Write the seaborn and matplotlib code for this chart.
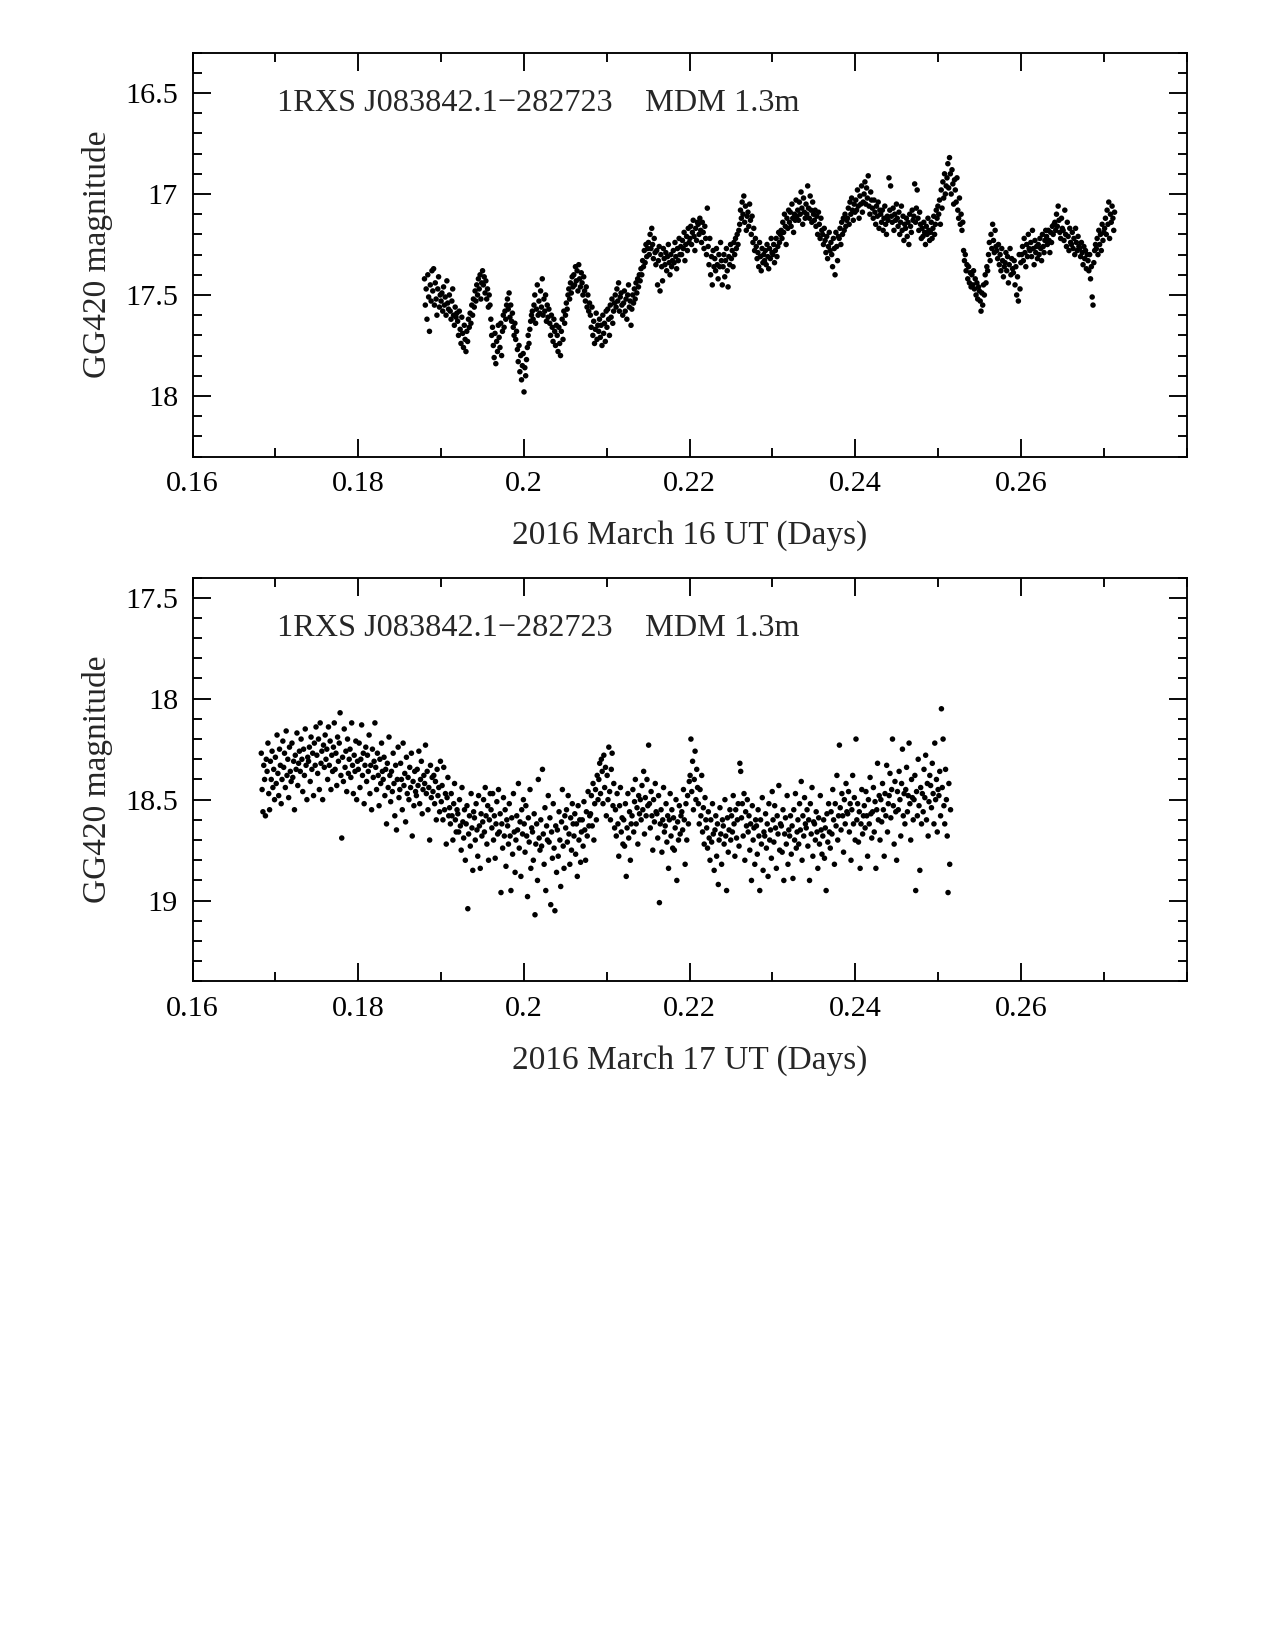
import numpy as np
import pandas as pd
import matplotlib
matplotlib.use("Agg")
import matplotlib.pyplot as plt
import seaborn as sns
from matplotlib.ticker import MultipleLocator, FuncFormatter

object_label = "1RXS J083842.1\u2212282723    MDM 1.3m"
ylabel = "GG420 magnitude"

night1_label = "2016 March 16 UT (Days)"
night1_t_start, night1_t_end = 0.1880, 0.2713
night1_mag = [
    17.42, 17.55, 17.47, 17.62, 17.40, 17.51, 17.68, 17.45, 17.53, 17.38,
    17.48, 17.37, 17.55, 17.44, 17.52, 17.60, 17.47, 17.41, 17.56, 17.50,
    17.53, 17.49, 17.58, 17.46, 17.55, 17.51, 17.60, 17.43, 17.54, 17.57,
    17.50, 17.58, 17.62, 17.53, 17.47, 17.60, 17.65, 17.56, 17.61, 17.59,
    17.63, 17.70, 17.58, 17.67, 17.74, 17.61, 17.69, 17.76, 17.65, 17.72,
    17.78, 17.68, 17.73, 17.62, 17.66, 17.59, 17.64, 17.55, 17.60, 17.52,
    17.56, 17.48, 17.53, 17.45, 17.50, 17.42, 17.47, 17.40, 17.52, 17.44,
    17.38, 17.45, 17.41, 17.49, 17.43, 17.52, 17.47, 17.56, 17.50, 17.55,
    17.62, 17.70, 17.66, 17.75, 17.81, 17.69, 17.84, 17.73, 17.78, 17.65,
    17.71, 17.76, 17.64, 17.80, 17.68, 17.60, 17.66, 17.58, 17.62, 17.55,
    17.52, 17.57, 17.49, 17.61, 17.55, 17.63, 17.59, 17.66, 17.70, 17.64,
    17.72, 17.68, 17.77, 17.83, 17.75, 17.88, 17.80, 17.92, 17.85, 17.79,
    17.98, 17.86, 17.90, 17.82, 17.76, 17.70, 17.74, 17.67, 17.63, 17.60,
    17.58, 17.62, 17.55, 17.50, 17.64, 17.57, 17.45, 17.60, 17.53, 17.59,
    17.48, 17.56, 17.42, 17.60, 17.52, 17.58, 17.50, 17.63, 17.55, 17.61,
    17.57, 17.64, 17.70, 17.60, 17.66, 17.73, 17.62, 17.68, 17.75, 17.65,
    17.70, 17.78, 17.66, 17.74, 17.80, 17.68, 17.62, 17.72, 17.58, 17.64,
    17.60, 17.54, 17.57, 17.50, 17.47, 17.52, 17.44, 17.49, 17.41, 17.46,
    17.40, 17.45, 17.36, 17.43, 17.38, 17.48, 17.35, 17.42, 17.46, 17.39,
    17.44, 17.50, 17.41, 17.48, 17.53, 17.46, 17.56, 17.50, 17.58, 17.54,
    17.60, 17.66, 17.56, 17.70, 17.63, 17.74, 17.67, 17.59, 17.72, 17.65,
    17.68, 17.62, 17.71, 17.65, 17.75, 17.60, 17.69, 17.64, 17.73, 17.58,
    17.66, 17.57, 17.62, 17.70, 17.55, 17.61, 17.52, 17.64, 17.58, 17.54,
    17.50, 17.56, 17.47, 17.53, 17.44, 17.58, 17.51, 17.49, 17.55, 17.60,
    17.54, 17.48, 17.58, 17.52, 17.62, 17.50, 17.45, 17.56, 17.53, 17.65,
    17.57, 17.50, 17.54, 17.47, 17.52, 17.44, 17.49, 17.42, 17.46, 17.40,
    17.43, 17.37, 17.40, 17.33, 17.36, 17.28, 17.34, 17.25, 17.31, 17.27,
    17.24, 17.30, 17.20, 17.27, 17.17, 17.25, 17.32, 17.22, 17.29, 17.35,
    17.28, 17.45, 17.33, 17.26, 17.48, 17.30, 17.36, 17.43, 17.27, 17.32,
    17.35, 17.29, 17.38, 17.31, 17.25, 17.34, 17.40, 17.30, 17.36, 17.33,
    17.28, 17.34, 17.24, 17.31, 17.37, 17.27, 17.33, 17.22, 17.30, 17.26,
    17.30, 17.23, 17.27, 17.19, 17.33, 17.25, 17.21, 17.28, 17.17, 17.24,
    17.22, 17.16, 17.25, 17.19, 17.13, 17.21, 17.28, 17.17, 17.23, 17.14,
    17.15, 17.20, 17.12, 17.18, 17.24, 17.14, 17.19, 17.27, 17.16, 17.22,
    17.30, 17.07, 17.26, 17.35, 17.22, 17.40, 17.31, 17.45, 17.28, 17.36,
    17.32, 17.38, 17.27, 17.35, 17.42, 17.30, 17.36, 17.24, 17.33, 17.45,
    17.36, 17.30, 17.41, 17.33, 17.27, 17.38, 17.46, 17.31, 17.35, 17.25,
    17.32, 17.28, 17.36, 17.24, 17.30, 17.22, 17.27, 17.20, 17.25, 17.18,
    17.15, 17.08, 17.12, 17.04, 17.10, 17.01, 17.14, 17.06, 17.18, 17.11,
    17.09, 17.16, 17.05, 17.13, 17.20, 17.11, 17.24, 17.17, 17.28, 17.22,
    17.26, 17.32, 17.29, 17.36, 17.24, 17.31, 17.38, 17.27, 17.34, 17.30,
    17.33, 17.28, 17.35, 17.25, 17.31, 17.37, 17.27, 17.32, 17.22, 17.29,
    17.30, 17.25, 17.34, 17.28, 17.22, 17.31, 17.26, 17.19, 17.24, 17.20,
    17.18, 17.22, 17.14, 17.19, 17.10, 17.16, 17.25, 17.12, 17.17, 17.08,
    17.14, 17.09, 17.16, 17.05, 17.12, 17.19, 17.10, 17.13, 17.03, 17.11,
    17.08, 17.13, 17.04, 17.10, 16.99, 17.07, 17.15, 17.02, 17.09, 17.12,
    17.05, 17.10, 16.96, 17.07, 17.12, 17.01, 17.08, 17.14, 17.04, 17.10,
    17.13, 17.08, 17.16, 17.11, 17.20, 17.09, 17.15, 17.22, 17.12, 17.18,
    17.20, 17.25, 17.17, 17.23, 17.29, 17.21, 17.32, 17.26, 17.19, 17.28,
    17.24, 17.30, 17.36, 17.22, 17.27, 17.40, 17.19, 17.26, 17.33, 17.21,
    17.22, 17.17, 17.25, 17.14, 17.20, 17.12, 17.18, 17.10, 17.16, 17.13,
    17.12, 17.07, 17.15, 17.04, 17.10, 17.02, 17.08, 17.13, 17.05, 17.09,
    17.03, 17.08, 16.98, 17.06, 17.12, 17.01, 17.05, 16.96, 17.09, 17.04,
    17.00, 16.94, 17.05, 16.97, 17.02, 16.91, 17.06, 17.10, 16.99, 17.03,
    17.07, 17.12, 17.03, 17.09, 17.15, 17.06, 17.11, 17.04, 17.17, 17.08,
    17.10, 17.14, 17.08, 17.18, 17.12, 17.06, 17.15, 17.20, 17.11, 17.13,
    16.92, 17.08, 16.96, 17.11, 17.14, 17.07, 17.18, 17.10, 17.13, 17.05,
    17.12, 17.16, 17.09, 17.20, 17.14, 17.06, 17.18, 17.11, 17.23, 17.15,
    17.17, 17.12, 17.21, 17.14, 17.25, 17.10, 17.16, 17.19, 17.08, 17.13,
    17.11, 16.95, 17.14, 17.07, 16.98, 17.12, 17.18, 17.09, 17.15, 17.22,
    17.17, 17.21, 17.14, 17.19, 17.25, 17.16, 17.20, 17.12, 17.18, 17.23,
    17.19, 17.14, 17.22, 17.17, 17.11, 17.20, 17.15, 17.08, 17.12, 17.06,
    17.10, 17.03, 17.15, 16.98, 17.07, 16.94, 17.02, 16.90, 17.00, 16.96,
    16.92, 16.85, 16.97, 16.82, 16.90, 17.00, 16.88, 16.95, 17.05, 16.93,
    16.98, 17.04, 16.92, 17.08, 17.12, 17.02, 17.15, 17.10, 17.18, 17.14,
    17.28, 17.33, 17.30, 17.38, 17.35, 17.42, 17.36, 17.44, 17.39, 17.46,
    17.40, 17.45, 17.38, 17.47, 17.42, 17.50, 17.44, 17.52, 17.46, 17.48,
    17.53, 17.58, 17.49, 17.55, 17.45, 17.50, 17.40, 17.44, 17.36, 17.38,
    17.30, 17.24, 17.33, 17.20, 17.27, 17.15, 17.23, 17.29, 17.18, 17.26,
    17.28, 17.32, 17.25, 17.35, 17.30, 17.38, 17.27, 17.33, 17.41, 17.36,
    17.34, 17.29, 17.38, 17.31, 17.44, 17.35, 17.27, 17.40, 17.32, 17.37,
    17.39, 17.33, 17.45, 17.36, 17.50, 17.41, 17.53, 17.30, 17.47, 17.34,
    17.30, 17.26, 17.33, 17.22, 17.29, 17.36, 17.25, 17.31, 17.20, 17.27,
    17.28, 17.24, 17.31, 17.18, 17.27, 17.35, 17.23, 17.29, 17.26, 17.32,
    17.25, 17.30, 17.22, 17.27, 17.33, 17.20, 17.26, 17.29, 17.23, 17.18,
    17.21, 17.25, 17.18, 17.23, 17.29, 17.19, 17.24, 17.16, 17.20, 17.15,
    17.14, 17.18, 17.10, 17.16, 17.06, 17.13, 17.19, 17.22, 17.12, 17.17,
    17.18, 17.23, 17.08, 17.20, 17.26, 17.14, 17.21, 17.28, 17.17, 17.24,
    17.25, 17.19, 17.27, 17.22, 17.30, 17.17, 17.24, 17.28, 17.21, 17.26,
    17.27, 17.31, 17.24, 17.29, 17.35, 17.26, 17.32, 17.28, 17.37, 17.30,
    17.33, 17.38, 17.30, 17.42, 17.36, 17.51, 17.55, 17.34, 17.28, 17.25,
    17.27, 17.22, 17.30, 17.18, 17.25, 17.20, 17.28, 17.15, 17.23, 17.19,
    17.17, 17.12, 17.20, 17.08, 17.15, 17.04, 17.22, 17.10, 17.14, 17.06,
    17.12, 17.18, 17.09,
]

night2_label = "2016 March 17 UT (Days)"
night2_t_start, night2_t_end = 0.1683, 0.2515
night2_mag = [
    18.27, 18.45, 18.56, 18.33, 18.40, 18.58, 18.30,
    18.36, 18.22, 18.47, 18.55, 18.31, 18.40, 18.26, 18.44, 18.35, 18.50,
    18.29, 18.42, 18.18, 18.37, 18.48, 18.25, 18.33, 18.52, 18.40, 18.21,
    18.34, 18.27, 18.44, 18.16, 18.38, 18.30, 18.49, 18.24, 18.36, 18.41,
    18.22, 18.39, 18.31, 18.55, 18.28, 18.35, 18.17, 18.43, 18.32, 18.26,
    18.36, 18.20, 18.30, 18.46, 18.25, 18.38, 18.15, 18.33, 18.50, 18.29,
    18.31, 18.24, 18.41, 18.19, 18.35, 18.27, 18.48, 18.22, 18.33, 18.14,
    18.28, 18.37, 18.20, 18.45, 18.12, 18.32, 18.26, 18.50, 18.23, 18.34,
    18.18, 18.30, 18.25, 18.40, 18.14, 18.33, 18.21, 18.45, 18.28, 18.36,
    18.24, 18.12, 18.35, 18.27, 18.43, 18.19, 18.31, 18.22, 18.07, 18.38,
    18.69, 18.29, 18.41, 18.15, 18.34, 18.26, 18.46, 18.20, 18.37, 18.30,
    18.25, 18.39, 18.12, 18.33, 18.47, 18.28, 18.36, 18.21, 18.50, 18.31,
    18.35, 18.22, 18.44, 18.30, 18.13, 18.38, 18.27, 18.52, 18.33, 18.24,
    18.41, 18.28, 18.36, 18.18, 18.47, 18.33, 18.55, 18.25, 18.39, 18.31,
    18.12, 18.34, 18.45, 18.27, 18.38, 18.53, 18.30, 18.42, 18.22, 18.36,
    18.40, 18.29, 18.48, 18.35, 18.62, 18.32, 18.44, 18.19, 18.38, 18.51,
    18.36, 18.46, 18.27, 18.42, 18.58, 18.33, 18.65, 18.40, 18.24, 18.49,
    18.45, 18.32, 18.40, 18.55, 18.22, 18.43, 18.37, 18.61, 18.29, 18.47,
    18.39, 18.50, 18.34, 18.44, 18.27, 18.68, 18.41, 18.53, 18.36, 18.46,
    18.48, 18.35, 18.43, 18.26, 18.52, 18.40, 18.31, 18.57, 18.45, 18.38,
    18.42, 18.23, 18.47, 18.36, 18.55, 18.44, 18.70, 18.33, 18.49, 18.39,
    18.46, 18.38, 18.52, 18.41, 18.60, 18.35, 18.48, 18.44, 18.56, 18.31,
    18.51, 18.43, 18.60, 18.34, 18.55, 18.47, 18.72, 18.49, 18.39, 18.58,
    18.54, 18.62, 18.47, 18.58, 18.70, 18.52, 18.42, 18.60, 18.66, 18.55,
    18.57, 18.66, 18.50, 18.63, 18.75, 18.44, 18.61, 18.69, 18.55, 18.80,
    18.62, 18.53, 19.04, 18.67, 18.58, 18.73, 18.47, 18.64, 18.85, 18.56,
    18.59, 18.70, 18.52, 18.65, 18.78, 18.48, 18.63, 18.84, 18.57, 18.68,
    18.61, 18.50, 18.66, 18.44, 18.58, 18.72, 18.53, 18.80, 18.60, 18.47,
    18.55, 18.64, 18.47, 18.70, 18.58, 18.79, 18.62, 18.51, 18.67, 18.45,
    18.66, 18.57, 18.96, 18.62, 18.74, 18.49, 18.68, 18.55, 18.83, 18.60,
    18.63, 18.72, 18.52, 18.68, 18.95, 18.59, 18.77, 18.47, 18.66, 18.86,
    18.70, 18.58, 18.65, 18.42, 18.74, 18.61, 18.88, 18.55, 18.67, 18.50,
    18.62, 18.76, 18.53, 18.68, 18.98, 18.59, 18.71, 18.45, 18.84, 18.64,
    18.66, 18.80, 18.57, 19.07, 18.72, 18.62, 18.90, 18.40, 18.69, 18.75,
    18.60, 18.73, 18.35, 18.67, 18.82, 18.54, 18.95, 18.63, 18.70, 18.48,
    18.71, 18.59, 19.02, 18.66, 18.79, 18.52, 18.74, 19.05, 18.63, 18.86,
    18.65, 18.78, 18.56, 18.70, 18.93, 18.61, 18.45, 18.73, 18.84, 18.58,
    18.64, 18.55, 18.71, 18.48, 18.67, 18.82, 18.59, 18.75, 18.52, 18.62,
    18.68, 18.57, 18.77, 18.62, 18.88, 18.53, 18.70, 18.60, 18.81, 18.66,
    18.60, 18.73, 18.51, 18.65, 18.80, 18.56, 18.68, 18.46, 18.63, 18.58,
    18.57, 18.48, 18.63, 18.42, 18.70, 18.52, 18.45, 18.60, 18.38, 18.50,
    18.40, 18.32, 18.47, 18.30, 18.36, 18.52, 18.28, 18.44, 18.34, 18.58,
    18.38, 18.50, 18.24, 18.46, 18.60, 18.35, 18.27, 18.53, 18.42, 18.64,
    18.55, 18.68, 18.47, 18.62, 18.78, 18.53, 18.44, 18.66, 18.59, 18.72,
    18.60, 18.73, 18.52, 18.88, 18.64, 18.47, 18.69, 18.56, 18.80, 18.62,
    18.58, 18.45, 18.66, 18.51, 18.40, 18.62, 18.54, 18.72, 18.48, 18.57,
    18.50, 18.60, 18.43, 18.55, 18.36, 18.67, 18.49, 18.58, 18.40, 18.53,
    18.23, 18.52, 18.64, 18.46, 18.58, 18.75, 18.50, 18.61, 18.42, 18.56,
    18.57, 18.69, 18.48, 19.01, 18.62, 18.55, 18.76, 18.60, 18.44, 18.66,
    18.63, 18.52, 18.71, 18.58, 18.84, 18.60, 18.47, 18.68, 18.55, 18.74,
    18.59, 18.75, 18.64, 18.50, 18.90, 18.61, 18.70, 18.53, 18.67, 18.58,
    18.56, 18.65, 18.45, 18.60, 18.82, 18.52, 18.70, 18.48, 18.62, 18.41,
    18.38, 18.20, 18.46, 18.31, 18.55, 18.40, 18.26, 18.50, 18.35, 18.44,
    18.52, 18.62, 18.45, 18.58, 18.38, 18.66, 18.54, 18.72, 18.49, 18.60,
    18.64, 18.74, 18.56, 18.69, 18.80, 18.60, 18.71, 18.52, 18.67, 18.85,
    18.65, 18.58, 18.78, 18.62, 18.92, 18.70, 18.54, 18.67, 18.82, 18.60,
    18.63, 18.72, 18.50, 18.68, 18.95, 18.59, 18.76, 18.65, 18.55, 18.70,
    18.58, 18.66, 18.48, 18.62, 18.78, 18.55, 18.69, 18.60, 18.52, 18.73,
    18.32, 18.36, 18.59, 18.52, 18.68, 18.47, 18.80, 18.56, 18.63, 18.50,
    18.66, 18.58, 18.75, 18.62, 18.90, 18.53, 18.70, 18.64, 18.82, 18.60,
    18.63, 18.77, 18.55, 18.68, 18.95, 18.60, 18.72, 18.49, 18.85, 18.66,
    18.68, 18.57, 18.74, 18.62, 18.88, 18.52, 18.70, 18.65, 18.79, 18.46,
    18.60, 18.71, 18.53, 18.64, 18.84, 18.58, 18.67, 18.43, 18.75, 18.62,
    18.63, 18.76, 18.55, 18.90, 18.67, 18.59, 18.72, 18.48, 18.82, 18.65,
    18.68, 18.58, 18.77, 18.63, 18.89, 18.55, 18.70, 18.47, 18.74, 18.66,
    18.60, 18.72, 18.52, 18.65, 18.41, 18.80, 18.58, 18.68, 18.49, 18.62,
    18.64, 18.55, 18.73, 18.60, 18.90, 18.52, 18.67, 18.44, 18.78, 18.61,
    18.62, 18.70, 18.56, 18.66, 18.84, 18.59, 18.72, 18.48, 18.65, 18.77,
    18.68, 18.60, 18.79, 18.64, 18.95, 18.57, 18.71, 18.52, 18.66, 18.74,
    18.56, 18.67, 18.45, 18.60, 18.82, 18.52, 18.63, 18.38, 18.70, 18.58,
    18.23, 18.54, 18.65, 18.47, 18.58, 18.76, 18.50, 18.62, 18.42, 18.56,
    18.57, 18.46, 18.66, 18.52, 18.80, 18.55, 18.38, 18.62, 18.49, 18.70,
    18.20, 18.60, 18.52, 18.71, 18.56, 18.84, 18.62, 18.45, 18.67, 18.58,
    18.53, 18.64, 18.46, 18.58, 18.78, 18.50, 18.62, 18.39, 18.57, 18.69,
    18.56, 18.44, 18.66, 18.51, 18.84, 18.55, 18.32, 18.60, 18.48, 18.70,
    18.50, 18.61, 18.42, 18.55, 18.78, 18.47, 18.58, 18.33, 18.66, 18.52,
    18.48, 18.37, 18.59, 18.45, 18.20, 18.53, 18.72, 18.41, 18.56, 18.80,
    18.46, 18.55, 18.36, 18.50, 18.68, 18.42, 18.25, 18.58, 18.47, 18.62,
    18.45, 18.34, 18.56, 18.48, 18.22, 18.52, 18.70, 18.40, 18.49, 18.60,
    18.50, 18.38, 18.95, 18.46, 18.58, 18.30, 18.53, 18.85, 18.44, 18.62,
    18.47, 18.56, 18.35, 18.49, 18.28, 18.60, 18.42, 18.68, 18.51, 18.38,
    18.43, 18.54, 18.32, 18.47, 18.62, 18.22, 18.50, 18.40, 18.66, 18.45,
    18.48, 18.36, 18.58, 18.05, 18.44, 18.20, 18.53, 18.62, 18.35, 18.50,
    18.68, 18.96, 18.42, 18.82, 18.55,
]

panels = [
    (night1_t_start, night1_t_end, night1_mag, night1_label, (18.3, 16.3), [16.5, 17.0, 17.5, 18.0]),
    (night2_t_start, night2_t_end, night2_mag, night2_label, (19.4, 17.4), [17.5, 18.0, 18.5, 19.0]),
]

sns.set_style("ticks")
plt.rcParams["font.family"] = ["Liberation Serif", "DejaVu Serif"]
plt.rcParams["axes.linewidth"] = 0.9

fig = plt.figure(figsize=(8.5, 11), dpi=150)
axes_rects = [[0.151, 0.7233, 0.7797, 0.2448], [0.151, 0.4052, 0.7797, 0.2448]]

fmt_g = FuncFormatter(lambda v, pos: f"{v:g}")

for rect, (t0, t1, mags, xlab, ylim, yticks) in zip(axes_rects, panels):
    ax = fig.add_axes(rect)
    df = pd.DataFrame({"t": np.linspace(t0, t1, len(mags)), "mag": mags})
    sns.scatterplot(data=df, x="t", y="mag", ax=ax, s=7, color="black",
                    linewidth=0, edgecolor="none", legend=False)
    ax.set_xlim(0.16, 0.28)
    ax.set_ylim(*ylim)
    ax.set_xticks([0.16, 0.18, 0.20, 0.22, 0.24, 0.26])
    ax.xaxis.set_minor_locator(MultipleLocator(0.01))
    ax.set_yticks(yticks)
    ax.yaxis.set_minor_locator(MultipleLocator(0.1))
    ax.xaxis.set_major_formatter(fmt_g)
    ax.yaxis.set_major_formatter(fmt_g)
    ax.tick_params(which="both", direction="in", top=True, right=True,
                   width=0.9, labelsize=14.5, colors="black")
    ax.tick_params(which="major", length=8.5, pad=7)
    ax.tick_params(which="minor", length=4.5)
    for s in ax.spines.values():
        s.set_visible(True)
        s.set_color("black")
    ax.set_xlabel(xlab, fontsize=16, labelpad=11)
    ax.set_ylabel(ylabel, fontsize=16, labelpad=6)
    ax.text(0.085, 0.873, object_label, transform=ax.transAxes,
            fontsize=15.5, va="center", ha="left")

fig.savefig("out.png", dpi=150)
